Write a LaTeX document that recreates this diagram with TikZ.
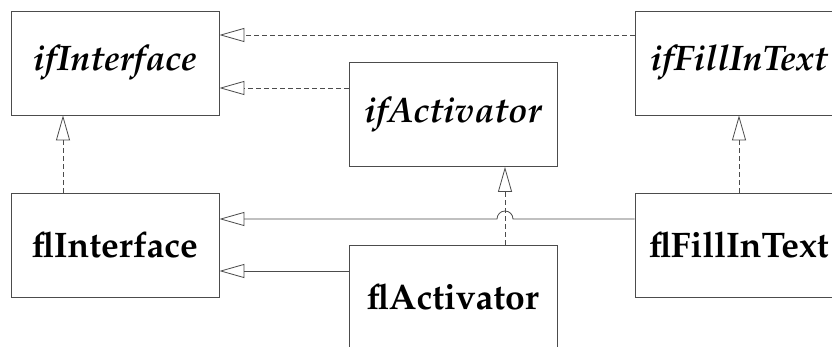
\documentclass[tikz,border=0pt]{standalone}
\usepackage[T1]{fontenc}
\usepackage{mathpazo}
\usetikzlibrary{arrows.meta,calc}

\tikzset{
  classbox/.style={draw=black!70, line width=0.8pt, rectangle,
    minimum width=208pt, minimum height=104pt, inner sep=0pt,
    font=\fontsize{35.5}{42}\selectfont},
  iface/.style={classbox, font=\fontsize{35.5}{42}\selectfont\bfseries\itshape},
  impl/.style={classbox, font=\fontsize{35.5}{42}\selectfont\bfseries},
  link/.style={draw=black!70, line width=0.8pt},
  realize/.style={link, dash pattern=on 5pt off 3pt,
    -{Triangle[open, length=25pt, width=14pt]}},
  inherit/.style={link, -{Triangle[open, length=25pt, width=14pt]}}
}

\begin{document}
\begin{tikzpicture}[x=1pt, y=1pt]
  \useasboundingbox (0,0) rectangle (832,-347);

  % interfaces
  \node[iface] (ifI) at (115,-63)   {ifInterface};
  \node[iface] (ifA) at (453,-114.5) {ifActivator};
  \node[iface] (ifF) at (739,-63)   {ifFillInText};

  % implementations
  \node[impl] (flI) at (115,-245) {flInterface};
  \node[impl] (flA) at (453,-297) {flActivator};
  \node[impl] (flF) at (739,-245) {flFillInText};

  % interface inheritance
  \coordinate (r1) at ([yshift=28pt]ifI.east);
  \coordinate (r2) at ([yshift=-25pt]ifI.east);
  \draw[realize] (ifF.west |- r1) -- (r1);
  \draw[realize] (ifA.west |- r2) -- (r2);

  % realizations
  \coordinate (u1) at ([xshift=-52pt]ifI.south);
  \coordinate (u2) at ([xshift=52pt]ifA.south);
  \draw[realize] (flI.north -| u1) -- (u1);
  \draw[realize] (flA.north -| u2) -- (u2);
  \draw[realize] (flF.north) -- (ifF.south);

  % implementation inheritance, hopping over the dashed line
  \coordinate (h1) at ([yshift=26pt]flI.east);
  \coordinate (h2) at ([yshift=-26pt]flI.east);
  \coordinate (hop) at (u2 |- h1);
  \draw[inherit] (flF.west |- h1) -- ($(hop)+(8,0)$)
    arc[start angle=0, end angle=180, radius=8] -- (h1);
  \draw[inherit] (flA.west |- h2) -- (h2);
\end{tikzpicture}
\end{document}
